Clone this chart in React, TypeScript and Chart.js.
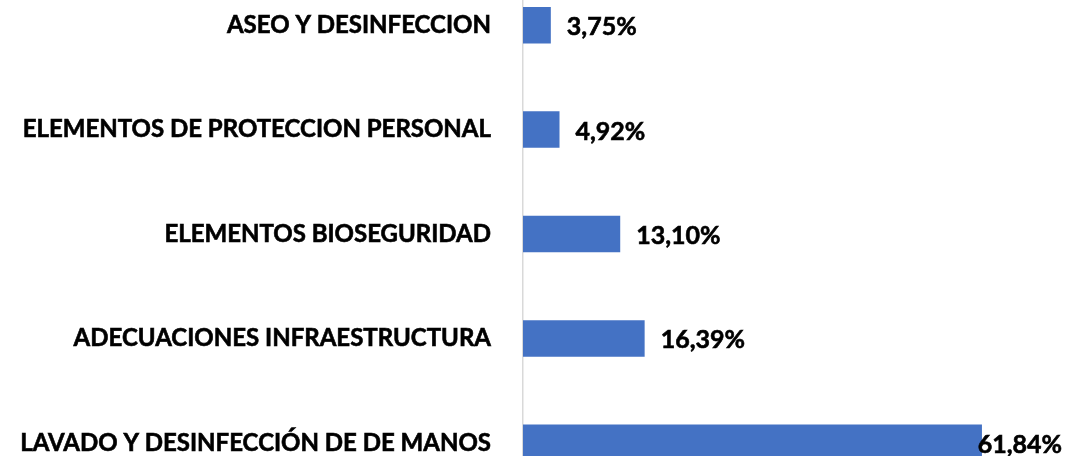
import React, { useEffect, useRef } from "react";
import { Chart, registerables } from "chart.js";

Chart.register(...registerables);

const categories = [
  "ASEO Y DESINFECCION",
  "ELEMENTOS DE PROTECCION PERSONAL",
  "ELEMENTOS BIOSEGURIDAD",
  "ADECUACIONES INFRAESTRUCTURA",
  "LAVADO Y DESINFECCIÓN DE DE MANOS",
];
const values = [3.75, 4.92, 13.1, 16.39, 61.84];
const valueLabels = ["3,75%", "4,92%", "13,10%", "16,39%", "61,84%"];

const FONT_FAMILY = "Lato, 'Noto Sans', sans-serif";
const FONT_SIZE = 24;
const BAR_COLOR = "#4472C4";
const TEXT_COLOR = "#000000";

const dataLabelPlugin = {
  id: "dataLabels",
  afterDatasetsDraw(chart: any) {
    const { ctx } = chart;
    const meta = chart.getDatasetMeta(0);
    ctx.save();
    ctx.font = `bold ${FONT_SIZE + 1}px ${FONT_FAMILY}`;
    ctx.fillStyle = TEXT_COLOR;
    ctx.strokeStyle = TEXT_COLOR;
    ctx.lineWidth = 0.6;
    ctx.textBaseline = "middle";
    ctx.textAlign = "left";
    meta.data.forEach((bar: any, i: number) => {
      const text = valueLabels[i];
      const w = ctx.measureText(text).width;
      let x = bar.x + 16;
      const limit = chart.width - 6 - w;
      if (x > limit) x = limit;
      ctx.strokeText(text, x, bar.y + 2);
      ctx.fillText(text, x, bar.y + 2);
    });
    ctx.restore();
  },
};

export default function App() {
  const canvasRef = useRef<HTMLCanvasElement | null>(null);

  useEffect(() => {
    document.body.style.margin = "0";
    document.body.style.overflow = "hidden";
    const canvas = canvasRef.current;
    if (!canvas) return;
    const chart = new Chart(canvas, {
      type: "bar",
      data: {
        labels: categories,
        datasets: [
          {
            data: values,
            backgroundColor: BAR_COLOR,
            borderWidth: 0,
            categoryPercentage: 1,
            barPercentage: 0.35,
          },
        ],
      },
      options: {
        indexAxis: "y",
        animation: false,
        responsive: false,
        maintainAspectRatio: false,
        layout: { padding: { left: 0, right: 25.5, top: 0, bottom: 0 } },
        plugins: {
          legend: { display: false },
          tooltip: { enabled: false },
          title: { display: false },
        },
        scales: {
          x: {
            display: false,
            min: 0,
            max: 70,
          },
          y: {
            grid: { display: false, drawTicks: false },
            border: { display: true, color: "#d9d9d9", width: 1.5 },
            ticks: {
              color: TEXT_COLOR,
              padding: 32,
              textStrokeColor: TEXT_COLOR,
              textStrokeWidth: 0.6,
              font: { family: FONT_FAMILY, size: FONT_SIZE, weight: "bold" },
            },
            afterFit: (scale: any) => {
              scale.width = 523;
              scale.paddingTop = 0;
              scale.paddingBottom = 0;
            },
          },
        },
      },
      plugins: [dataLabelPlugin],
    });
    return () => chart.destroy();
  }, []);

  return (
    <div
      style={{
        position: "fixed",
        left: 0,
        top: 0,
        width: 1068,
        height: 456,
        overflow: "hidden",
        background: "#ffffff",
      }}
    >
      <div style={{ position: "absolute", left: 0, top: -27, width: 1068, height: 522 }}>
        <canvas ref={canvasRef} width={1068} height={522} style={{ display: "block" }} />
      </div>
    </div>
  );
}
